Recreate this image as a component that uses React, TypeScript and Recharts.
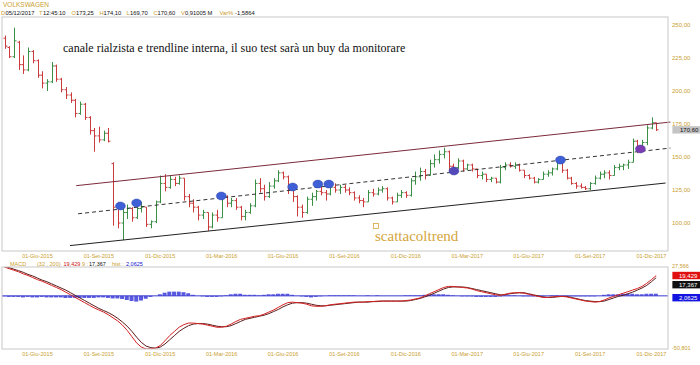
import React from 'react';
import { ComposedChart, Bar, Line, XAxis, YAxis, ReferenceLine, ReferenceDot } from 'recharts';

// ---------- categories / ticks ----------
const tickWeek = [7, 20, 33, 46, 59, 72, 85, 98, 111, 124, 137];
const tickLabels = ['01-Giu-2015', '01-Set-2015', '01-Dic-2015', '01-Mar-2016', '01-Giu-2016', '01-Set-2016', '01-Dic-2016', '01-Mar-2017', '01-Giu-2017', '01-Set-2017', '01-Dic-2017'];
const weekSlots = 141; // 139 weekly bars + 2 empty slots on the right
const priceTicks = [100, 125, 150, 175, 200, 225, 250];
const priceDomain = [78.8, 256.1];
const macdDomain = [-50.801, 27.566];
const macdTicks = [27.566, -50.801];

// ---------- weekly OHLC (VOLKSWAGEN) ----------
const open = [
  240, 233, 226, 237, 220, 216, 230, 223, 212, 206,
  207, 219, 209, 201, 197, 193, 183, 190, 180, 170,
  166, 163, 168, 145, 112, 100, 108, 111, 104, 111,
  112, 99, 101, 116, 130, 127, 133, 130, 134, 120,
  115, 112, 106, 108, 97, 106, 104, 120, 115, 117,
  112, 105, 108, 113, 130, 126, 120, 128, 132, 138,
  135, 125, 120, 112, 108, 118, 120, 124, 123, 122,
  127, 125, 127, 125, 123, 119, 117, 116, 123, 122,
  125, 126, 119, 116, 121, 123, 121, 132, 135, 139,
  136, 145, 148, 152, 154, 143, 142, 147, 141, 144,
  141, 136, 137, 133, 134, 131, 142, 144, 143, 144,
  140, 136, 134, 131, 133, 137, 138, 141, 146, 140,
  134, 130, 128, 127, 126, 130, 134, 137, 138, 136,
  142, 143, 144, 146, 162, 156, 161, 172, 176,
];
const high = [
  242, 234, 248, 238, 227, 233, 231, 224, 215, 209,
  222, 220, 210, 203, 199, 194, 192, 191, 181, 172,
  173, 170, 172, 146, 116, 112, 114, 112, 113, 116,
  112, 102, 117, 136, 137, 136, 135, 136, 134, 122,
  118, 113, 110, 108, 108, 110, 122, 121, 119, 119,
  113, 110, 115, 133, 134, 129, 131, 134, 140, 139,
  136, 128, 121, 114, 120, 123, 125, 130, 125, 130,
  130, 129, 129, 127, 124, 121, 119, 125, 126, 127,
  128, 127, 120, 123, 125, 124, 134, 139, 142, 141,
  148, 152, 155, 157, 155, 145, 149, 148, 145, 145,
  141, 139, 137, 135, 134, 144, 146, 146, 146, 145,
  140, 137, 135, 134, 139, 140, 142, 148, 148, 141,
  135, 131, 130, 128, 131, 136, 139, 140, 140, 144,
  145, 145, 148, 164, 163, 163, 174, 180, 176,
];
const low = [
  232, 225, 225, 216, 213, 215, 221, 210, 202, 200,
  206, 207, 199, 194, 191, 180, 182, 178, 167, 154,
  161, 162, 161, 98, 96, 87, 103, 101, 103, 108,
  97, 96, 100, 115, 124, 126, 128, 129, 117, 112,
  108, 102, 103, 94, 96, 101, 104, 112, 112, 110,
  102, 102, 107, 112, 123, 117, 119, 126, 131, 133,
  122, 116, 105, 104, 107, 113, 117, 121, 117, 121,
  123, 122, 123, 121, 117, 115, 112, 116, 120, 121,
  123, 117, 114, 116, 119, 119, 120, 129, 132, 133,
  136, 142, 145, 149, 140, 139, 141, 139, 140, 139,
  134, 133, 131, 131, 130, 130, 140, 142, 141, 139,
  134, 133, 130, 130, 133, 135, 136, 140, 138, 133,
  129, 126, 126, 125, 125, 129, 133, 134, 133, 136,
  140, 140, 141, 146, 153, 155, 159, 171, 169.7,
];
const close = [
  234, 226, 238, 220, 216, 230, 223, 212, 206, 207,
  219, 209, 201, 197, 193, 183, 190, 180, 170, 166,
  163, 168, 162, 112, 100, 108, 111, 104, 111, 112,
  99, 101, 116, 130, 127, 133, 130, 134, 120, 115,
  112, 106, 108, 97, 106, 104, 120, 115, 117, 112,
  105, 108, 113, 130, 126, 120, 128, 132, 138, 135,
  125, 120, 112, 108, 118, 120, 124, 123, 122, 127,
  125, 127, 125, 123, 119, 117, 116, 123, 122, 125,
  126, 119, 116, 121, 123, 121, 132, 135, 139, 136,
  145, 148, 152, 154, 143, 142, 147, 141, 144, 141,
  136, 137, 133, 134, 131, 142, 144, 143, 144, 140,
  136, 134, 131, 133, 137, 138, 141, 146, 140, 134,
  130, 128, 127, 126, 130, 134, 137, 138, 136, 142,
  143, 144, 146, 162, 156, 161, 172, 176, 170.6,
];

// ---------- MACD (32, 200), signal 9 ----------
const macd = [
  27.5, 26, 24.5, 23, 21, 19.5, 17.5, 15.5, 14, 12,
  10, 8, 6, 3.5, 1, -1.5, -4, -6.5, -9, -11.5,
  -13.5, -15.5, -18, -21, -24, -28, -33, -39, -45, -49,
  -50.8, -50.5, -50, -47.5, -43, -38, -34, -30, -27.5, -26,
  -26, -26.5, -27, -28, -29, -30, -30, -29, -27, -24.5,
  -22.5, -21.5, -20.5, -19.5, -19, -17.5, -15.5, -13.5, -11, -8.5,
  -6.5, -6, -6.5, -7, -8, -9.5, -10, -10, -9.5, -8.5,
  -8, -7.5, -7, -6.5, -6, -6, -6, -5.5, -5.5, -5,
  -5, -5, -5, -5, -5, -4.5, -4, -3, -2, 0,
  2, 4, 6, 8, 9, 9, 8.5, 8, 7.5, 6.5,
  5, 4, 3, 2, 1, 0.5, 1.5, 2.5, 3, 3,
  2.5, 1.5, 0.5, -0.5, -1.5, -1.5, -1, -0.5, -0.5, -1,
  -2, -3, -4, -5, -5.5, -6, -5.5, -4, -2, -0.5,
  1, 2.5, 4, 5.5, 7, 9, 12, 15.5, 19.429,
];
const signal = [
  28, 27, 25.5, 24, 22.5, 20.5, 19, 17, 15, 13.5,
  11.5, 9.5, 7.5, 5.5, 3, 0.5, -2, -4.5, -7, -9.5,
  -12, -14, -16, -18.5, -21.5, -25, -29, -34, -39.5, -44.5,
  -48, -49.5, -50, -49, -46, -42, -38, -34, -31, -28.5,
  -27, -26.5, -26.5, -27, -28, -29, -29.5, -29.5, -28.5, -26.5,
  -24.5, -22.5, -21.5, -20.5, -19.5, -18.5, -17, -15, -13, -10.5,
  -8.5, -7, -6.5, -6.5, -7, -8, -9, -9.5, -9.5, -9,
  -8.5, -8, -7.5, -7, -6.5, -6, -6, -6, -5.5, -5.5,
  -5, -5, -5, -5, -5, -5, -4.5, -3.5, -2.5, -1,
  0.5, 2.5, 4.5, 6.5, 8, 8.5, 8.5, 8.5, 8, 7,
  6, 5, 4, 3, 2, 1, 1, 2, 2.5, 3,
  3, 2, 1, 0, -1, -1.5, -1.5, -1, -0.5, -0.5,
  -1.5, -2.5, -3.5, -4.5, -5, -5.5, -5.5, -5, -3.5, -2,
  -0.5, 0.5, 2, 3.5, 5.5, 7.5, 10, 13.5, 17.367,
];
const hist = [
  -0.5, -1, -1, -1, -1.5, -1, -1.5, -1.5, -1, -1.5,
  -1.5, -1.5, -1.5, -2, -2, -2, -2, -2, -2, -2,
  -1.5, -1.5, -2, -2.5, -2.5, -3, -4, -5, -5.5, -4.5,
  -2.8, -1, 0, 1.5, 3, 4, 4, 4, 3.5, 2.5,
  1, 0, -0.5, -1, -1, -1, -0.5, 0.5, 1.5, 2,
  2, 1, 1, 1, 0.5, 1, 1.5, 1.5, 2, 2,
  2, 1, 0, -0.5, -1, -1.5, -1, -0.5, 0, 0.5,
  0.5, 0.5, 0.5, 0.5, 0.5, 0, 0, 0.5, 0, 0.5,
  0, 0, 0, 0, 0, 0.5, 0.5, 0.5, 0.5, 1,
  1.5, 1.5, 1.5, 1.5, 1, 0.5, 0, -0.5, -0.5, -0.5,
  -1, -1, -1, -1, -1, -0.5, 0.5, 0.5, 0.5, 0,
  -0.5, -0.5, -0.5, -0.5, -0.5, 0, 0.5, 0.5, 0, -0.5,
  -0.5, -0.5, -0.5, -0.5, -0.5, -0.5, 0, 1, 1.5, 1.5,
  1.5, 2, 2, 2, 1.5, 1.5, 2, 2, 2.0625,
];

// ---------- drawn channel + marks (week index, price) ----------
const upperChannel = [{ x: 15.6, y: 128.3 }, { x: 140.5, y: 176.5 }];
const lowerChannel = [{ x: 14.3, y: 82.9 }, { x: 139.5, y: 130.3 }];
const midTrend = [{ x: 16.0, y: 107.0 }, { x: 140.5, y: 156.8 }];
const dotWeek = [24.9, 28.3, 46.1, 61.1, 66.4, 68.7, 95.0, 117.4, 134.2];
const dotPrice = [112.9, 115.2, 120.5, 127.3, 129.5, 129.5, 139.4, 147.7, 156.1];

// ---------- header quote ----------
const quote = { name: 'VOLKSWAGEN', date: '05/12/2017', time: '12:45:10', open: 173.25, high: 174.1, low: 169.7, close: 170.6, volume: '0,91005 M', varPct: -1.5864 };
const macdInfo = { fast: 32, slow: 200, sig: 9, macd: 19.429, signal: 17.367, hist: 2.0625 };
const note = 'canale rialzista e trendline interna, il suo test sarà un buy da monitorare';
const watermark = 'scattacoltrend';

// ---------- styles ----------
const GOLD = '#c9a030';
const RED = '#cc3b3b';
const GREEN = '#3b8f45';
const dotColors = ['#3f5fd6', '#3f5fd6', '#3f5fd6', '#3f5fd6', '#3f5fd6', '#3f5fd6', '#5548b8', '#3f5fd6', '#7a3cb0'];
const SANS = 'Liberation Sans, Arial, sans-serif';
const SERIF = 'Liberation Serif, Times New Roman, serif';

const fmt = (v: number, d: number) => v.toFixed(d).replace('.', ',');

const rows = Array.from({ length: weekSlots }, (_, i) => {
  const has = i < close.length;
  return {
    i,
    hl: has ? [low[i], high[i]] : null,
    o: has ? open[i] : null,
    h: has ? high[i] : null,
    l: has ? low[i] : null,
    c: has ? close[i] : null,
    macd: i < macd.length ? macd[i] : null,
    signal: i < signal.length ? signal[i] : null,
    hist: i < hist.length ? hist[i] : null,
  };
});

// OHLC bar: high-low stem, open tick on the left, close tick on the right
const OhlcBar = (props: any) => {
  const { x, y, width, height, payload } = props;
  if (!payload || payload.o == null || y == null || height == null) return null;
  const top = Math.min(y, y + height);
  const hh = Math.abs(height);
  const { o, c, h: hi, l: lo } = payload;
  const span = hi - lo || 1;
  const yOf = (v: number) => top + ((hi - v) / span) * hh;
  const cx = Math.round(x + width / 2) + 0.5;
  const col = c >= o ? GREEN : RED;
  return (
    <g stroke={col} strokeWidth={1}>
      <line x1={cx} x2={cx} y1={top} y2={top + hh} />
      <line x1={cx - 2} x2={cx} y1={yOf(o)} y2={yOf(o)} />
      <line x1={cx} x2={cx + 2} y1={yOf(c)} y2={yOf(c)} />
    </g>
  );
};

const XTick = (dy: number) => (p: any) => {
  const k = tickWeek.indexOf(p.payload.value);
  return (
    <text x={p.x} y={p.y + dy} textAnchor="middle" fontSize={5.5} fontFamily={SANS} fill={GOLD}>
      {k >= 0 ? tickLabels[k] : ''}
    </text>
  );
};

const PriceTick = (p: any) => (
  <text x={p.x + 4} y={p.y + 2} fontSize={6} fontFamily={SANS} fill={GOLD}>{fmt(p.payload.value, 2)}</text>
);

const MacdTick = (p: any) => (
  <text x={p.x + 4} y={p.payload.value > 0 ? p.y + 0.5 : p.y + 1} fontSize={5.5} fontFamily={SANS} fill={GOLD}>{fmt(p.payload.value, 3)}</text>
);

const valueBox = (text: string, bg: string, fg: string, dy: number, w = 29) => (p: any) => (
  <g>
    <rect x={p.cx + 2} y={p.cy - 3.7 + dy} width={w} height={7.4} fill={bg} />
    <text x={p.cx + w - 2} y={p.cy + 2.2 + dy} textAnchor="end" fontSize={6} fontFamily={SANS} fill={fg}>{text}</text>
  </g>
);

const Ellipse = (color: string) => (p: any) => (
  <ellipse cx={p.cx} cy={p.cy} rx={5} ry={4} fill={color} stroke="#2a3c9a" strokeWidth={0.4} />
);

const headerItems = [
  { t: 'D', x: 1, c: GOLD }, { t: quote.date, x: 5.5, c: '#111' },
  { t: 'T', x: 39, c: GOLD }, { t: quote.time, x: 43, c: '#111' },
  { t: 'O', x: 71.5, c: GOLD }, { t: fmt(quote.open, 2), x: 76, c: '#111' },
  { t: 'H', x: 99.5, c: GOLD }, { t: fmt(quote.high, 2), x: 103.5, c: '#111' },
  { t: 'L', x: 126.5, c: GOLD }, { t: fmt(quote.low, 2), x: 130, c: '#111' },
  { t: 'C', x: 153.5, c: GOLD }, { t: fmt(quote.close, 2), x: 157.5, c: '#111' },
  { t: 'V', x: 181, c: GOLD }, { t: quote.volume, x: 185, c: '#111' },
  { t: 'Var%', x: 219.5, c: GOLD }, { t: fmt(quote.varPct, 4), x: 235, c: '#111' },
];

const macdLegend = [
  { t: 'MACD', x: 10, c: GOLD },
  { t: `(${macdInfo.fast} , ${macdInfo.slow})`, x: 37, c: GOLD },
  { t: fmt(macdInfo.macd, 3), x: 63.5, c: '#d01010' },
  { t: `${macdInfo.sig} :`, x: 82, c: GOLD },
  { t: fmt(macdInfo.signal, 3), x: 89, c: '#111' },
  { t: 'hist :', x: 112, c: GOLD },
  { t: fmt(macdInfo.hist, 4), x: 126, c: '#1010d0' },
];

export default function App() {
  return (
    <div style={{ position: 'absolute', left: 0, top: 0, width: 700, height: 365, background: '#fff', overflow: 'hidden' }}>
      <div style={{ position: 'absolute', left: 0, top: 0 }}>
        <ComposedChart width={700} height={262} data={rows} margin={{ top: 17, right: 0, bottom: 0, left: 2 }}>
          <XAxis dataKey="i" type="category" ticks={tickWeek} interval={0} height={11} tickLine={false} axisLine={false} tickSize={0} tickMargin={0} tick={XTick(6.5)} />
          <XAxis xAxisId="n" type="number" domain={[-0.5, weekSlots - 0.5]} hide allowDataOverflow />
          <YAxis orientation="right" width={32} domain={priceDomain} ticks={priceTicks} interval={0} allowDataOverflow tickLine={false} axisLine={false} tickSize={0} tickMargin={0} tick={PriceTick} />
          <ReferenceLine xAxisId="n" segment={upperChannel} stroke="#7a2a3a" strokeWidth={1} ifOverflow="visible" />
          <ReferenceLine xAxisId="n" segment={lowerChannel} stroke="#222" strokeWidth={1} ifOverflow="visible" />
          <ReferenceLine xAxisId="n" segment={midTrend} stroke="#333" strokeWidth={1} strokeDasharray="4 3" ifOverflow="visible" />
          <Bar dataKey={(d: any) => d.hl} barSize={3} shape={OhlcBar} isAnimationActive={false} />
          {dotWeek.map((w, k) => (
            <ReferenceDot key={k} xAxisId="n" x={w} y={dotPrice[k]} r={5} shape={Ellipse(dotColors[k])} ifOverflow="visible" />
          ))}
          <ReferenceDot xAxisId="n" x={weekSlots - 0.5} y={quote.close} r={1} ifOverflow="visible" shape={valueBox(fmt(quote.close, 2), '#c4c4c4', '#111', 0, 30)} />
        </ComposedChart>
      </div>
      <div style={{ position: 'absolute', left: 0, top: 262 }}>
        <ComposedChart width={700} height={103} data={rows} margin={{ top: 5, right: 0, bottom: 0, left: 2 }}>
          <XAxis dataKey="i" type="category" ticks={tickWeek} interval={0} height={16} tickLine={false} axisLine={false} tickSize={0} tickMargin={0} tick={XTick(7)} />
          <XAxis xAxisId="n" type="number" domain={[-0.5, weekSlots - 0.5]} hide allowDataOverflow />
          <YAxis orientation="right" width={32} domain={macdDomain} ticks={macdTicks} interval={0} allowDataOverflow tickLine={false} axisLine={false} tickSize={0} tickMargin={0} tick={MacdTick} />
          <ReferenceLine y={0} stroke="#3a3ad0" strokeWidth={1} />
          <Bar dataKey="hist" barSize={4} fill="#5a5ae0" isAnimationActive={false} />
          <Line dataKey="signal" stroke="#5a1c1c" strokeWidth={1} dot={false} isAnimationActive={false} type="linear" />
          <Line dataKey="macd" stroke="#d42020" strokeWidth={1} dot={false} isAnimationActive={false} type="linear" />
          <ReferenceDot xAxisId="n" x={weekSlots - 0.5} y={macdInfo.macd} r={1} ifOverflow="visible" shape={valueBox(fmt(macdInfo.macd, 3), '#e01010', '#fff', 0)} />
          <ReferenceDot xAxisId="n" x={weekSlots - 0.5} y={macdInfo.signal} r={1} ifOverflow="visible" shape={valueBox(fmt(macdInfo.signal, 3), '#111', '#fff', 7)} />
          <ReferenceDot xAxisId="n" x={weekSlots - 0.5} y={macdInfo.hist} r={1} ifOverflow="visible" shape={valueBox(fmt(macdInfo.hist, 4), '#1414e0', '#fff', 4)} />
        </ComposedChart>
      </div>
      <svg width={700} height={365} style={{ position: 'absolute', left: 0, top: 0, pointerEvents: 'none' }}>
        <rect x={2} y={17} width={666} height={234} fill="none" stroke="#c8c8c8" strokeWidth={1} />
        <rect x={2} y={267} width={666} height={82} fill="none" stroke="#c8c8c8" strokeWidth={1} />
        <text x={3} y={6.5} fontSize={6.5} fontFamily={SANS} fill={GOLD}>{quote.name}</text>
        {headerItems.map((h, k) => (
          <text key={k} x={h.x} y={14.8} fontSize={5.8} fontFamily={SANS} fill={h.c}>{h.t}</text>
        ))}
        <text x={63} y={51.5} fontSize={12} fontFamily={SERIF} fill="#111">{note}</text>
        <rect x={373.5} y={223.5} width={5} height={5} fill="none" stroke="#d4a53c" strokeWidth={0.8} />
        <text x={375} y={241} fontSize={15} fontFamily={SERIF} fill="#d4a53c">{watermark}</text>
        {macdLegend.map((h, k) => (
          <text key={k} x={h.x} y={265.5} fontSize={5.5} fontFamily={SANS} fill={h.c}>{h.t}</text>
        ))}
      </svg>
    </div>
  );
}
